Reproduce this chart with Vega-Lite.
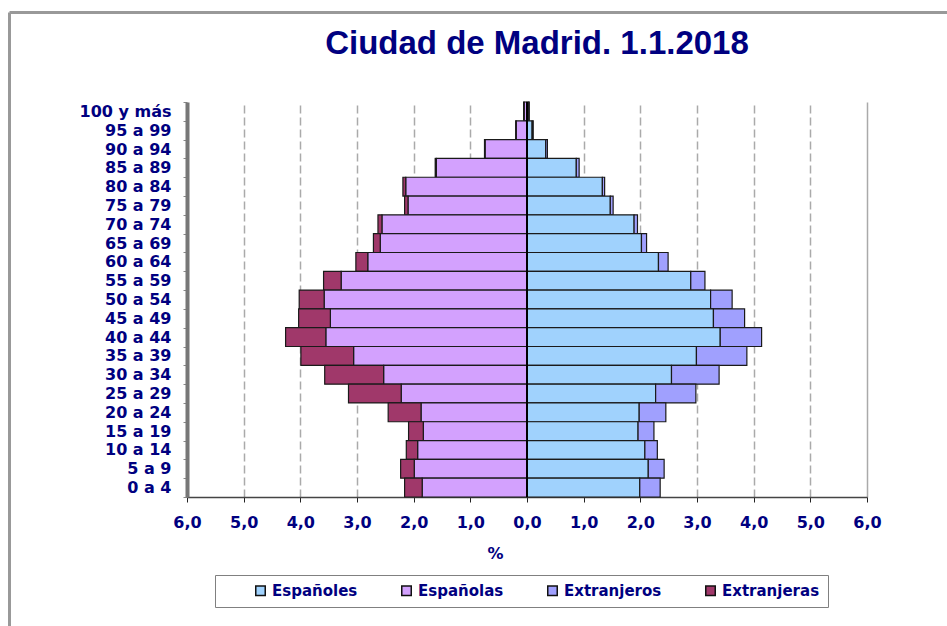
{
  "$schema": "https://vega.github.io/schema/vega-lite/v6.json",
  "width": 680,
  "height": 395,
  "autosize": {"type": "none"},
  "padding": {"left": 187, "top": 102, "right": 80, "bottom": 129},
  "background": "white",
  "title": {
    "text": "Ciudad de Madrid. 1.1.2018",
    "font": "Liberation Sans",
    "fontSize": 33,
    "fontWeight": "bold",
    "color": "#000080",
    "anchor": "middle",
    "frame": "group",
    "dx": 10,
    "offset": -49
  },
  "data": {
    "values": [
      {"edad": "100 y más", "grupo": "Españoles", "pct": 0.03},
      {"edad": "100 y más", "grupo": "Extranjeros", "pct": 0.01},
      {"edad": "100 y más", "grupo": "Españolas", "pct": -0.05},
      {"edad": "100 y más", "grupo": "Extranjeras", "pct": -0.01},
      {"edad": "95 a 99", "grupo": "Españoles", "pct": 0.09},
      {"edad": "95 a 99", "grupo": "Extranjeros", "pct": 0.02},
      {"edad": "95 a 99", "grupo": "Españolas", "pct": -0.19},
      {"edad": "95 a 99", "grupo": "Extranjeras", "pct": -0.01},
      {"edad": "90 a 94", "grupo": "Españoles", "pct": 0.33},
      {"edad": "90 a 94", "grupo": "Extranjeros", "pct": 0.03},
      {"edad": "90 a 94", "grupo": "Españolas", "pct": -0.74},
      {"edad": "90 a 94", "grupo": "Extranjeras", "pct": -0.01},
      {"edad": "85 a 89", "grupo": "Españoles", "pct": 0.87},
      {"edad": "85 a 89", "grupo": "Extranjeros", "pct": 0.05},
      {"edad": "85 a 89", "grupo": "Españolas", "pct": -1.6},
      {"edad": "85 a 89", "grupo": "Extranjeras", "pct": -0.02},
      {"edad": "80 a 84", "grupo": "Españoles", "pct": 1.33},
      {"edad": "80 a 84", "grupo": "Extranjeros", "pct": 0.04},
      {"edad": "80 a 84", "grupo": "Españolas", "pct": -2.14},
      {"edad": "80 a 84", "grupo": "Extranjeras", "pct": -0.05},
      {"edad": "75 a 79", "grupo": "Españoles", "pct": 1.47},
      {"edad": "75 a 79", "grupo": "Extranjeros", "pct": 0.05},
      {"edad": "75 a 79", "grupo": "Españolas", "pct": -2.1},
      {"edad": "75 a 79", "grupo": "Extranjeras", "pct": -0.06},
      {"edad": "70 a 74", "grupo": "Españoles", "pct": 1.89},
      {"edad": "70 a 74", "grupo": "Extranjeros", "pct": 0.06},
      {"edad": "70 a 74", "grupo": "Españolas", "pct": -2.56},
      {"edad": "70 a 74", "grupo": "Extranjeras", "pct": -0.07},
      {"edad": "65 a 69", "grupo": "Españoles", "pct": 2.02},
      {"edad": "65 a 69", "grupo": "Extranjeros", "pct": 0.09},
      {"edad": "65 a 69", "grupo": "Españolas", "pct": -2.59},
      {"edad": "65 a 69", "grupo": "Extranjeras", "pct": -0.12},
      {"edad": "60 a 64", "grupo": "Españoles", "pct": 2.32},
      {"edad": "60 a 64", "grupo": "Extranjeros", "pct": 0.17},
      {"edad": "60 a 64", "grupo": "Españolas", "pct": -2.81},
      {"edad": "60 a 64", "grupo": "Extranjeras", "pct": -0.21},
      {"edad": "55 a 59", "grupo": "Españoles", "pct": 2.89},
      {"edad": "55 a 59", "grupo": "Extranjeros", "pct": 0.25},
      {"edad": "55 a 59", "grupo": "Españolas", "pct": -3.28},
      {"edad": "55 a 59", "grupo": "Extranjeras", "pct": -0.31},
      {"edad": "50 a 54", "grupo": "Españoles", "pct": 3.24},
      {"edad": "50 a 54", "grupo": "Extranjeros", "pct": 0.38},
      {"edad": "50 a 54", "grupo": "Españolas", "pct": -3.58},
      {"edad": "50 a 54", "grupo": "Extranjeras", "pct": -0.44},
      {"edad": "45 a 49", "grupo": "Españoles", "pct": 3.29},
      {"edad": "45 a 49", "grupo": "Extranjeros", "pct": 0.55},
      {"edad": "45 a 49", "grupo": "Españolas", "pct": -3.47},
      {"edad": "45 a 49", "grupo": "Extranjeras", "pct": -0.56},
      {"edad": "40 a 44", "grupo": "Españoles", "pct": 3.41},
      {"edad": "40 a 44", "grupo": "Extranjeros", "pct": 0.73},
      {"edad": "40 a 44", "grupo": "Españolas", "pct": -3.55},
      {"edad": "40 a 44", "grupo": "Extranjeras", "pct": -0.71},
      {"edad": "35 a 39", "grupo": "Españoles", "pct": 2.99},
      {"edad": "35 a 39", "grupo": "Extranjeros", "pct": 0.89},
      {"edad": "35 a 39", "grupo": "Españolas", "pct": -3.06},
      {"edad": "35 a 39", "grupo": "Extranjeras", "pct": -0.93},
      {"edad": "30 a 34", "grupo": "Españoles", "pct": 2.55},
      {"edad": "30 a 34", "grupo": "Extranjeros", "pct": 0.84},
      {"edad": "30 a 34", "grupo": "Españolas", "pct": -2.53},
      {"edad": "30 a 34", "grupo": "Extranjeras", "pct": -1.04},
      {"edad": "25 a 29", "grupo": "Españoles", "pct": 2.27},
      {"edad": "25 a 29", "grupo": "Extranjeros", "pct": 0.71},
      {"edad": "25 a 29", "grupo": "Españolas", "pct": -2.22},
      {"edad": "25 a 29", "grupo": "Extranjeras", "pct": -0.93},
      {"edad": "20 a 24", "grupo": "Españoles", "pct": 1.98},
      {"edad": "20 a 24", "grupo": "Extranjeros", "pct": 0.47},
      {"edad": "20 a 24", "grupo": "Españolas", "pct": -1.87},
      {"edad": "20 a 24", "grupo": "Extranjeras", "pct": -0.58},
      {"edad": "15 a 19", "grupo": "Españoles", "pct": 1.96},
      {"edad": "15 a 19", "grupo": "Extranjeros", "pct": 0.28},
      {"edad": "15 a 19", "grupo": "Españolas", "pct": -1.83},
      {"edad": "15 a 19", "grupo": "Extranjeras", "pct": -0.26},
      {"edad": "10 a 14", "grupo": "Españoles", "pct": 2.08},
      {"edad": "10 a 14", "grupo": "Extranjeros", "pct": 0.22},
      {"edad": "10 a 14", "grupo": "Españolas", "pct": -1.93},
      {"edad": "10 a 14", "grupo": "Extranjeras", "pct": -0.2},
      {"edad": "5 a 9", "grupo": "Españoles", "pct": 2.14},
      {"edad": "5 a 9", "grupo": "Extranjeros", "pct": 0.28},
      {"edad": "5 a 9", "grupo": "Españolas", "pct": -1.99},
      {"edad": "5 a 9", "grupo": "Extranjeras", "pct": -0.24},
      {"edad": "0 a 4", "grupo": "Españoles", "pct": 1.99},
      {"edad": "0 a 4", "grupo": "Extranjeros", "pct": 0.36},
      {"edad": "0 a 4", "grupo": "Españolas", "pct": -1.85},
      {"edad": "0 a 4", "grupo": "Extranjeras", "pct": -0.31}
    ]
  },
  "layer": [
    {
      "layer": [
        {
          "mark": {"type": "bar", "stroke": "#1a1a1a", "strokeWidth": 1.2},
          "encoding": {
            "y": {
              "field": "edad",
              "type": "nominal",
              "sort": ["100 y más", "95 a 99", "90 a 94", "85 a 89", "80 a 84", "75 a 79", "70 a 74", "65 a 69", "60 a 64", "55 a 59", "50 a 54", "45 a 49", "40 a 44", "35 a 39", "30 a 34", "25 a 29", "20 a 24", "15 a 19", "10 a 14", "5 a 9", "0 a 4"],
              "scale": {"paddingInner": 0, "paddingOuter": 0},
              "axis": {
                "title": null,
                "labelFont": "DejaVu Sans",
                "labelFontWeight": "bold",
                "labelFontSize": 16,
                "labelColor": "#000080",
                "labelPadding": 12,
                "tickBand": "extent",
                "tickSize": 4,
                "tickColor": "#888",
                "domainColor": "#777",
                "domainWidth": 4
              }
            },
            "x": {
              "field": "pct",
              "type": "quantitative",
              "stack": "zero",
              "scale": {"domain": [-6, 6], "nice": false, "zero": false},
              "axis": {
                "values": [-6, -5, -4, -3, -2, -1, 0, 1, 2, 3, 4, 5, 6],
                "labelExpr": "replace(format(abs(datum.value), '.1f'), '.', ',')",
                "labelFlush": false,
                "labelFont": "DejaVu Sans",
                "labelFontWeight": "bold",
                "labelFontSize": 16,
                "labelColor": "#000080",
                "labelPadding": 12,
                "tickSize": 5,
                "tickColor": "#222",
                "domainColor": "#444",
                "domainWidth": 1.5,
                "grid": true,
                "gridColor": "#aaaaaa",
                "gridWidth": 1.5,
                "gridDash": {"condition": {"test": "datum.value == 6", "value": [1, 0]}, "value": [8, 4]},
                "gridOpacity": {"condition": {"test": "datum.value == 0 || datum.value == -6", "value": 0}, "value": 1},
                "title": "%",
                "titleFont": "DejaVu Sans",
                "titleFontWeight": "bold",
                "titleFontSize": 16,
                "titleColor": "#000080",
                "titleX": 308,
                "titleY": 56,
                "titleAlign": "center",
                "titleBaseline": "middle"
              }
            },
            "color": {
              "field": "grupo",
              "type": "nominal",
              "scale": {
                "domain": ["Españoles", "Españolas", "Extranjeros", "Extranjeras"],
                "range": ["#a0d2fd", "#d3a1fe", "#a0a0fe", "#a0386a"]
              },
              "legend": {
                "orient": "none",
                "legendX": 28,
                "legendY": 473,
                "direction": "horizontal",
                "columns": 4,
                "title": null,
                "labelFont": "DejaVu Sans",
                "labelFontWeight": "bold",
                "labelFontSize": 15,
                "labelColor": "#000080",
                "labelOffset": 4,
                "symbolType": "square",
                "symbolSize": 90,
                "symbolStrokeColor": "#111",
                "symbolStrokeWidth": 1.5,
                "symbolOpacity": 1,
                "symbolOffset": 30,
                "columnPadding": 11,
                "padding": 8,
                "strokeColor": "#808080"
              }
            },
            "order": {"field": "grupo"}
          }
        },
        {
          "data": {"values": [{}]},
          "mark": {"type": "rule", "color": "#000", "strokeWidth": 2},
          "encoding": {"x": {"datum": 0}}
        }
      ]
    },
    {
      "data": {"values": [{"a": 0}]},
      "mark": {"type": "point", "opacity": 0},
      "encoding": {
        "x": {
          "field": "a",
          "type": "quantitative",
          "scale": {"domain": [0, 1], "range": [-178, 760]},
          "axis": {"orient": "top", "offset": 90, "title": null, "labels": false, "ticks": false, "grid": false, "domainColor": "#999", "domainWidth": 3}
        },
        "y": {
          "field": "a",
          "type": "quantitative",
          "scale": {"domain": [0, 1], "range": [524, -90]},
          "axis": {"orient": "left", "offset": 178, "title": null, "labels": false, "ticks": false, "grid": false, "domainColor": "#999", "domainWidth": 3}
        }
      }
    }
  ],
  "resolve": {"scale": {"x": "independent", "y": "independent"}},
  "config": {"view": {"stroke": null}}
}
